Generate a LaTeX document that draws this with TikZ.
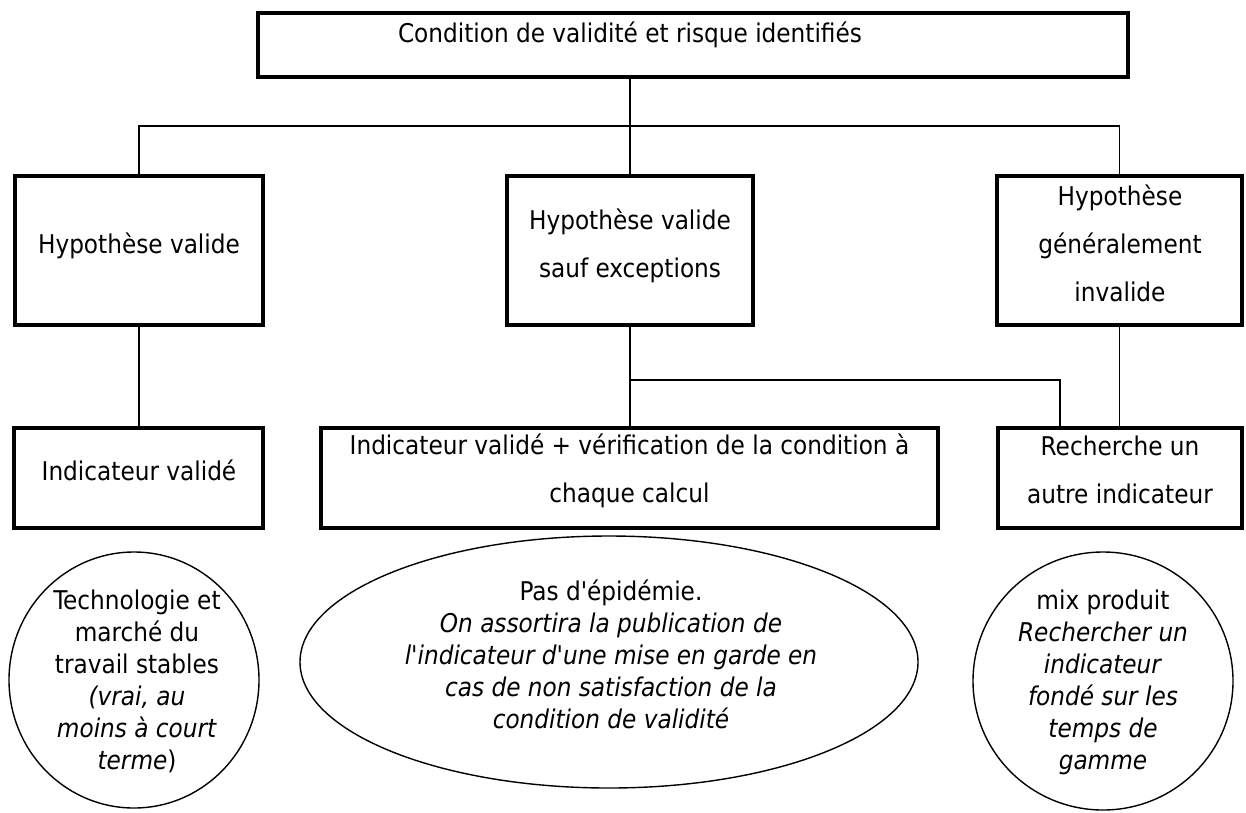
\documentclass[tikz,border=0pt]{standalone}
\usepackage{fontspec}
\setmainfont{DejaVu Sans Condensed}[Ligatures=TeXOff]
\usetikzlibrary{shapes.geometric}
\tikzset{
  box/.style={draw, line width=4pt, inner sep=0pt, rectangle},
  conn/.style={draw, line width=1.8pt},
  ell/.style={draw, ellipse, line width=1.4pt, inner sep=0pt},
  txt/.style={inner sep=0pt, align=center, font=\fontsize{25.8}{48}\selectfont},
  etxt/.style={inner sep=0pt, align=center, font=\fontsize{25.8}{32}\selectfont}
}
\begin{document}
\begin{tikzpicture}[x=1pt,y=1pt]
\useasboundingbox (0,0) rectangle (1246,-812);
% boxes
\node[box, minimum width=870pt, minimum height=64pt] (top) at (693,-45) {};
\node[box, minimum width=248pt, minimum height=149pt] (leftT) at (139,-250.5) {};
\node[box, minimum width=246pt, minimum height=149pt] (midT) at (630,-250.5) {};
\node[box, minimum width=245pt, minimum height=149pt] (rightT) at (1119.5,-250.5) {};
\node[box, minimum width=249pt, minimum height=100pt] (leftB) at (138.5,-478) {};
\node[box, minimum width=617pt, minimum height=100pt] (midB) at (629.5,-478) {};
\node[box, minimum width=244pt, minimum height=100pt] (rightB) at (1120,-478) {};
% texts
\node[txt, anchor=base] (tTop) at (630,-42) {Condition de validité et risque identifiés};
\node[txt, anchor=base] (tLT) at (139,-253) {Hypothèse valide};
\node[txt] (tMT) at (630,-246) {Hypothèse valide\\sauf exceptions};
\node[txt] (tRT) at (1120,-243) {Hypothèse\\généralement\\invalide};
\node[txt, anchor=base] (tLB) at (139,-480) {Indicateur validé};
\node[txt] (tMB) at (629.5,-471) {Indicateur validé + vérification de la condition à\\chaque calcul};
\node[txt] (tRB) at (1120,-469.5) {Recherche un\\autre indicateur};
% ellipses
\node[ell, minimum width=250pt, minimum height=256pt] (eL) at (134,-680) {};
\node[ell, minimum width=618pt, minimum height=252pt] (eM) at (609,-662) {};
\node[ell, minimum width=260pt, minimum height=258pt] (eR) at (1103,-681) {};
\node[etxt] (teL) at (137,-681) {Technologie et\\marché du\\travail stables\\\textit{(vrai, au}\\\textit{moins à court}\\\textit{terme})};
\node[etxt] (teM) at (611,-654) {Pas d'épidémie.\\\textit{On assortira la publication de}\\\textit{l'indicateur d'une mise en garde en}\\\textit{cas de non satisfaction de la}\\\textit{condition de validité}};
\node[etxt] (teR) at (1103,-682) {mix produit\\\textit{Rechercher un}\\\textit{indicateur}\\\textit{fondé sur les}\\\textit{temps de}\\\textit{gamme}};
% connectors
\coordinate (j1) at (630,-126);
\coordinate (j2) at (630,-380);
\coordinate (j3) at (1060,-380);
\draw[conn] (top.south -| midT.north) -- (midT.north);
\draw[conn] (leftT.north) -- (leftT.north |- j1) -- (rightT.north |- j1) -- (rightT.north);
\draw[conn] (leftT.south) -- (leftT.south |- leftB.north);
\draw[conn] (midT.south) -- (midT.south |- midB.north);
\draw[conn] (rightT.south) -- (rightT.south |- rightB.north);
\draw[conn] (j2) -- (j3) -- (j3 |- rightB.north);
\end{tikzpicture}
\end{document}
